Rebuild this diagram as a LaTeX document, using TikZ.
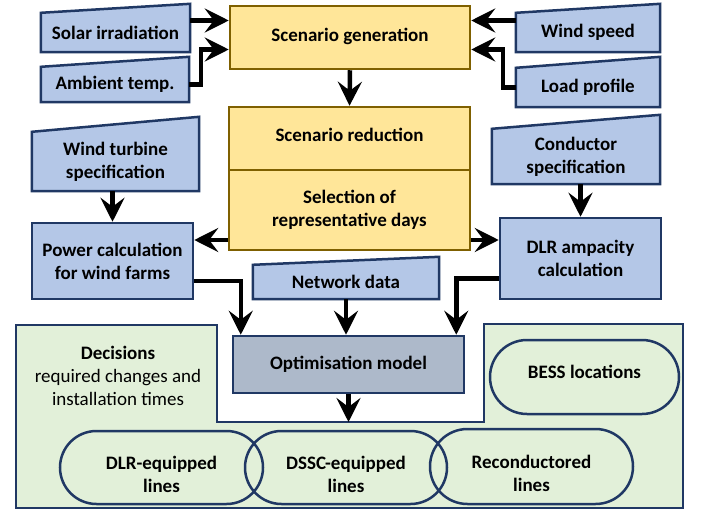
\documentclass[tikz,border=0pt]{standalone}
\usepackage{fontspec}
\setmainfont{Carlito}
\usetikzlibrary{arrows.meta,backgrounds,shapes.misc}
\definecolor{inblue}{HTML}{B4C7E7}
\definecolor{navy}{HTML}{203864}
\definecolor{scenfill}{HTML}{FFE699}
\definecolor{scenline}{HTML}{7F6000}
\definecolor{optfill}{HTML}{ADB9CA}
\definecolor{decfill}{HTML}{E2F0D9}

\begin{document}
\begin{tikzpicture}[x=1pt, y=-1pt,
    every node/.style={font=\fontsize{19}{23}\selectfont, align=center, inner sep=0pt},
    inbox/.style={rectangle, font=\fontsize{19}{23}\selectfont\bfseries},
    scenbox/.style={rectangle, draw=scenline, fill=scenfill, line width=2.5pt, font=\fontsize{19}{23}\selectfont\bfseries},
    calcbox/.style={rectangle, draw=navy, fill=inblue, line width=2.5pt, font=\fontsize{19}{23}\selectfont\bfseries},
    optbox/.style={rectangle, draw=navy, fill=optfill, line width=2.5pt, font=\fontsize{19}{23}\selectfont\bfseries},
    capsule/.style={rounded rectangle, draw=navy, line width=2.5pt, font=\fontsize{19}{23}\selectfont\bfseries},
    lowtext/.style={text height=50pt},
    arr/.style={-{Stealth[length=24pt, width=24pt, inset=9pt]}, line width=4.5pt}]
        \useasboundingbox (0, 0) rectangle (702, 514);
        % decisions region
        \coordinate (notch) at (217, 422);
        \filldraw[draw=navy, fill=decfill, line width=2pt] (16, 325) -- (217, 325) -- (notch) -- (484, 422)
            -- (484, 324) -- (683, 324) -- (683, 508) -- (16, 508) -- cycle;
        % input data
        \node[inbox, minimum width=149pt, minimum height=39pt] (solar) at (115.5, 32.5) {Solar irradiation};
        \node[inbox, minimum width=148pt, minimum height=35pt] (ambient) at (115, 84.5) {Ambient temp.};
        \node[inbox, minimum width=144pt, minimum height=39pt] (wind) at (588, 32.5) {Wind speed};
        \node[inbox, minimum width=144pt, minimum height=39pt] (load) at (588, 87.5) {Load profile};
        \node[inbox, minimum width=167pt, minimum height=59pt] (turb) at (115.5, 161.5) {Wind turbine\\specification};
        \node[inbox, minimum width=168pt, minimum height=55pt] (cond) at (576, 156.5) {Conductor\\specification};
        \node[inbox, minimum width=186pt, minimum height=34pt] (net) at (346, 282) {Network data};
        \begin{scope}[on background layer]
            \foreach \n/\s in {solar/9, ambient/10, wind/9, load/11, turb/15, cond/14, net/8}
                \filldraw[draw=navy, fill=inblue, line width=2.5pt] (\n.south west) -- (\n.south east)
                    -- ([yshift=\s pt]\n.north east) -- (\n.north west) -- cycle;
        \end{scope}
        % scenarios
        \node[scenbox, minimum width=240pt, minimum height=63pt, text depth=6pt] (gen) at (350, 37.5) {Scenario generation};
        \node[scenbox, minimum width=241pt, minimum height=63pt, text depth=8pt] (red) at (349.5, 138.5) {Scenario reduction};
        \node[scenbox, minimum width=241pt, minimum height=80pt] (sel) at (349.5, 210) {Selection of\\representative days};
        % calculations
        \node[calcbox, minimum width=161pt, minimum height=76pt] (power) at (112.5, 261) {Power calculation\\for wind farms};
        \node[calcbox, minimum width=161pt, minimum height=81pt] (dlr) at (580.5, 258.5) {DLR ampacity\\calculation};
        \node[optbox, minimum width=231pt, minimum height=57pt] (opt) at (348.5, 364.5) {Optimisation model};
        % decisions
        \node (dec) at (118, 376) {\textbf{Decisions}\\required changes and\\installation times};
        \node[capsule, minimum width=189pt, minimum height=74pt, text depth=10pt] (bess) at (584.5, 377) {BESS locations};
        \node[capsule, lowtext, minimum width=203pt, minimum height=73pt] (dlreq) at (161.5, 467.5) {DLR-equipped\\lines};
        \node[capsule, lowtext, minimum width=202pt, minimum height=73pt] (dssc) at (346, 467.5) {DSSC-equipped\\lines};
        \node[capsule, lowtext, minimum width=203pt, minimum height=75pt] (recond) at (531.5, 466.5) {Reconductored\\lines};
        % connectors
        \draw[arr] ([yshift=12pt]solar.east) -- ([yshift=12pt]solar.east -| gen.west);
        \draw[arr] (ambient.east) -- ++(12, 0) |- ([yshift=-12pt]gen.west);
        \draw[arr] ([yshift=12pt]wind.west) -- ([yshift=12pt]wind.west -| gen.east);
        \draw[arr] (load.west) -- ++(-13, 0) |- ([yshift=-12pt]gen.east);
        \draw[arr] (gen.south) -- (red.north);
        \draw[arr] (power.north |- turb.south) -- (power.north);
        \draw[arr] (dlr.north |- cond.south) -- (dlr.north);
        \draw[arr] ([yshift=-30pt]sel.west) -- ([yshift=-30pt]sel.west -| power.east);
        \draw[arr] ([yshift=-30pt]sel.east) -- ([yshift=-30pt]sel.east -| dlr.west);
        \draw[arr] ([yshift=-20pt]power.east) -| ([xshift=9pt]opt.north west);
        \draw[arr] (net.south) -- (net.south |- opt.north);
        \draw[arr] ([yshift=-20pt]dlr.west) -| ([xshift=-9pt]opt.north east);
        \draw[arr] (opt.south) -- (opt.south |- notch);
\end{tikzpicture}
\end{document}
